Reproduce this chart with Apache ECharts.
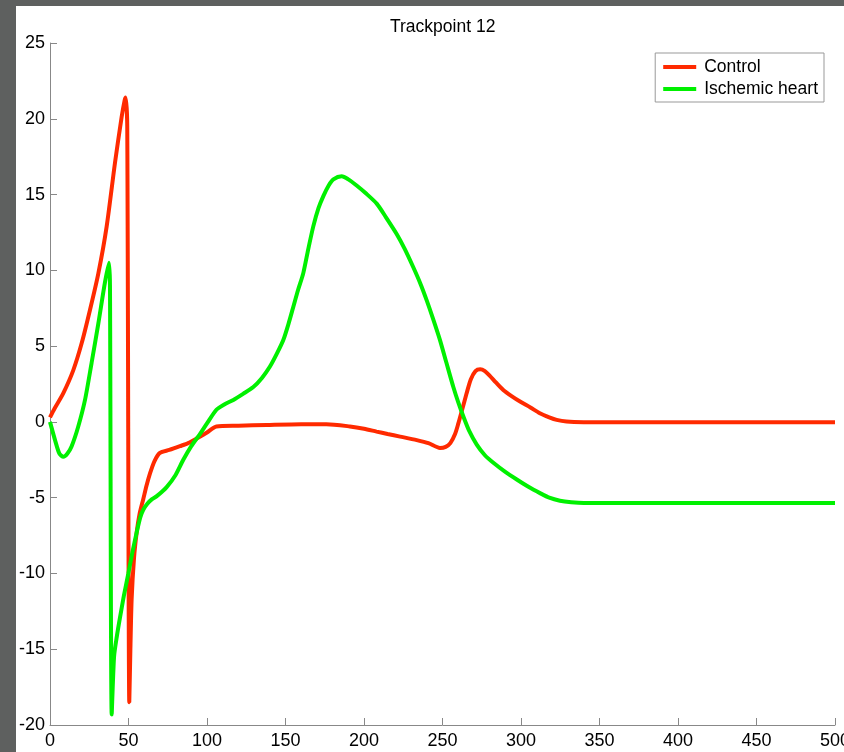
<!DOCTYPE html>
<html>
<head>
<meta charset="utf-8">
<script src="https://cdn.jsdelivr.net/npm/echarts@6/dist/echarts.min.js"></script>
<style>
  html, body { margin: 0; padding: 0; background: #5e605f; overflow: hidden; }
  #main { position: absolute; left: 16px; top: 6px; width: 828px; height: 746px; background: #fff; }
</style>
</head>
<body>
<div id="main"></div>
<script>
// Control (red) trace
var redX = [0, 3, 8.5, 14.8, 20.2, 25.5, 30.8, 36.1, 41.4, 45.6, 47.5, 48.2, 49.2, 50.5, 51.2, 52, 53.5, 55.2, 57, 59.4, 61.5, 63.7, 66.5, 70, 76, 82.8, 88, 93.4, 100, 106, 120, 138, 160, 176, 191, 200, 208, 215, 223, 233.6, 241, 248.4, 252, 255, 258, 260.1, 262.5, 265.4, 268, 271, 274, 277, 280, 284, 288.7, 294, 299.4, 306, 312, 318, 322.7, 329, 340, 400, 500];
var redY = [0.3, 0.9, 1.9, 3.4, 5.2, 7.4, 9.8, 12.9, 17.1, 20.1, 21.2, 21.4, 19.5, -18.5, -15, -11.7, -9, -7.3, -6.1, -5.1, -4.2, -3.4, -2.6, -2.05, -1.85, -1.6, -1.4, -1.1, -0.7, -0.3, -0.25, -0.2, -0.15, -0.15, -0.3, -0.45, -0.64, -0.8, -0.97, -1.2, -1.4, -1.72, -1.65, -1.4, -0.8, -0.1, 0.8, 1.9, 2.8, 3.35, 3.47, 3.35, 3.05, 2.6, 2.1, 1.7, 1.34, 0.95, 0.57, 0.3, 0.13, 0.02, -0.02, -0.03, -0.03];

// Ischemic heart (green) trace
var greenX = [0, 3.2, 6, 8.5, 11, 13.8, 18, 22.3, 26.5, 30.8, 35, 37.6, 38.2, 39.3, 40.8, 42.5, 44.6, 47, 49.9, 52.5, 55.2, 57.5, 59.4, 62, 65, 68, 74.3, 80, 84.9, 90, 95.5, 100, 106, 111, 116.8, 123, 129.5, 135, 140.1, 144.5, 148.6, 152, 155, 158, 161.3, 164.5, 167.7, 171, 174.1, 177.5, 180.5, 185.8, 190, 195.3, 201, 208.1, 214, 220.8, 226, 231.4, 236, 240, 244, 248.4, 252.5, 256.9, 260, 263.3, 267, 271.8, 277, 282.4, 290, 297.3, 305, 312.1, 318, 324.8, 332, 340, 400, 500];
var greenY = [0, -1.2, -2.1, -2.3, -2.1, -1.6, -0.3, 1.45, 3.9, 6.5, 9.2, 10.5, 9, -19.3, -15.5, -14.2, -12.9, -11.5, -10, -8.6, -7.3, -6.3, -5.8, -5.4, -5.1, -4.9, -4.3, -3.5, -2.5, -1.6, -0.8, -0.1, 0.8, 1.15, 1.45, 1.85, 2.3, 2.9, 3.65, 4.5, 5.4, 6.5, 7.6, 8.7, 9.8, 11.4, 12.9, 14.1, 14.9, 15.6, 16.0, 16.2, 16.0, 15.6, 15.1, 14.4, 13.5, 12.4, 11.4, 10.2, 9.1, 8.0, 6.8, 5.4, 3.9, 2.3, 1.3, 0.35, -0.6, -1.5, -2.2, -2.7, -3.3, -3.8, -4.3, -4.7, -5.0, -5.2, -5.3, -5.35, -5.35, -5.35];

var seriesNames = ["Control", "Ischemic heart"];
var xTicks = { min: 0, max: 500, step: 50 };
var yTicks = { min: -20, max: 25, step: 5 };

function pairs(xs, ys) {
  var out = [];
  for (var i = 0; i < xs.length; i++) {
    out.push([xs[i], ys[i]]);
  }
  return out;
}

var chart = echarts.init(document.getElementById("main"));

var axisCommon = {
  axisLine: { show: true, onZero: false, lineStyle: { color: "#888", width: 1 } },
  axisTick: { show: true, inside: true, length: 7, lineStyle: { color: "#888" } },
  splitLine: { show: false },
  axisLabel: { color: "#000", fontSize: 18, fontFamily: "Liberation Sans" }
};

chart.setOption({
  animation: false,
  title: {
    text: "Trackpoint 12",
    left: 369,
    top: 7,
    textStyle: { color: "#000", fontSize: 17.5, fontWeight: "normal", fontFamily: "Liberation Sans" }
  },
  legend: {
    data: seriesNames,
    orient: "vertical",
    right: 20,
    top: 47,
    padding: [5, 6, 4, 8],
    itemGap: 4,
    itemWidth: 33,
    itemHeight: 4,
    icon: "rect",
    borderColor: "#999",
    borderWidth: 1,
    backgroundColor: "#fff",
    textStyle: { color: "#000", fontSize: 17.5, fontFamily: "Liberation Sans", padding: [0, 0, 0, 3] }
  },
  grid: { left: 34, right: 9, top: 37, bottom: 27, containLabel: false, outerBoundsMode: "none" },
  xAxis: Object.assign({}, axisCommon, {
    type: "value",
    min: xTicks.min,
    max: xTicks.max,
    interval: xTicks.step,
    axisLabel: Object.assign({}, axisCommon.axisLabel, { margin: 7 })
  }),
  yAxis: Object.assign({}, axisCommon, {
    type: "value",
    min: yTicks.min,
    max: yTicks.max,
    interval: yTicks.step,
    axisLabel: Object.assign({}, axisCommon.axisLabel, { margin: 5 })
  }),
  series: [
    {
      name: seriesNames[0],
      type: "line",
      data: pairs(redX, redY),
      showSymbol: false,
      smooth: 0.25,
      color: "#ff2a00",
      lineStyle: { color: "#ff2a00", width: 4 }
    },
    {
      name: seriesNames[1],
      type: "line",
      data: pairs(greenX, greenY),
      showSymbol: false,
      smooth: 0.25,
      color: "#00f000",
      lineStyle: { color: "#00f000", width: 4 }
    }
  ]
});
</script>
</body>
</html>
